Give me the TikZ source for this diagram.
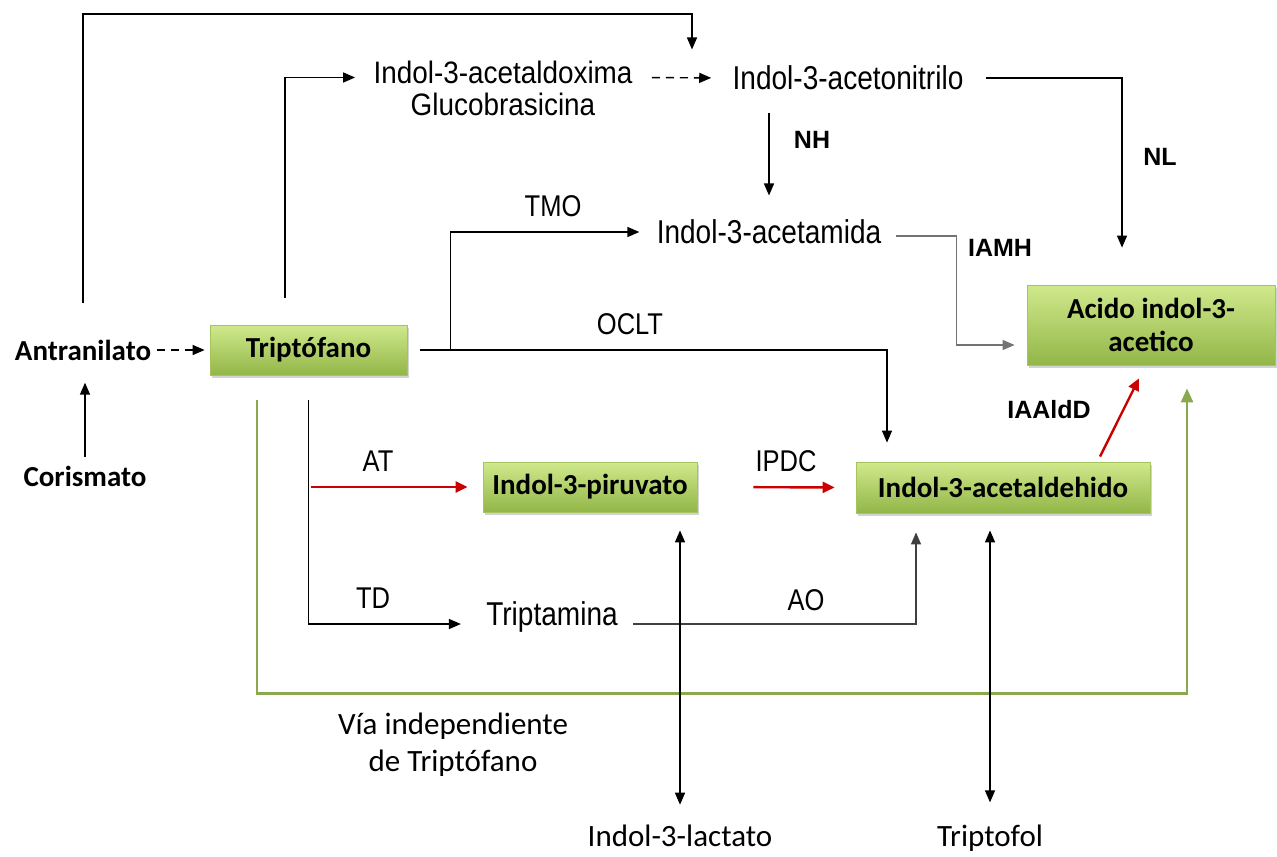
\documentclass[tikz,border=0pt]{standalone}
\usepackage{fontspec}
\setmainfont{Carlito}
\newfontfamily\narfont[FakeStretch=0.85]{Liberation Sans}
\newfontfamily\narwfont[FakeStretch=0.9]{Liberation Sans}
\newfontfamily\arfont{Liberation Sans}
\usetikzlibrary{arrows.meta,shadows}

\definecolor{boxtop}{RGB}{208,233,140}
\definecolor{boxbot}{RGB}{146,182,72}
\definecolor{boxedge}{RGB}{165,195,95}
\definecolor{viagreen}{RGB}{138,168,78}
\definecolor{redarr}{RGB}{204,0,0}

\begin{document}
\begin{tikzpicture}
[
x=0.5pt, y=-0.5pt,
every node/.style={inner sep=2pt},
box/.style={rectangle, draw=boxedge, top color=boxtop, bottom color=boxbot,
  font=\bfseries\fontsize{14.5}{16.5}\selectfont,
  drop shadow={shadow xshift=1.2pt, shadow yshift=-1.6pt, opacity=0.35}},
met/.style={font=\bfseries\fontsize{14.5}{16.5}\selectfont},
nar/.style={font=\narfont\fontsize{16.5}{17}\selectfont},
nar2/.style={font=\narwfont\fontsize{15.5}{15.6}\selectfont},
lab/.style={font=\narfont\fontsize{15}{15}\selectfont},
enz/.style={font=\arfont\bfseries\fontsize{12.5}{14}\selectfont},
pl/.style={font=\fontsize{15.5}{18.5}\selectfont},
arr/.style={-{Triangle[length=6pt,width=5pt]}, line width=0.7pt},
darr/.style={{Triangle[length=6pt,width=5pt]}-{Triangle[length=6pt,width=5pt]}, line width=0.7pt},
dash arr/.style={arr, dash pattern=on 4pt off 3pt},
red arr/.style={arr, draw=redarr, line width=1.2pt, -{Triangle[length=6pt,width=5.5pt]}},
grey arr/.style={arr, draw=black!55},
via arr/.style={arr, draw=viagreen, line width=1.3pt, -{Triangle[length=7pt,width=6pt]}}
]
\useasboundingbox (0,0) rectangle (1277,856);

% metabolitos
\node[met] (antr) at (83,350) {Antranilato};
\node[met] (coris) at (85,476) {Corismato};
\node[box, minimum width=98.5pt, minimum height=25pt] (trip) at (308.5,350) {Triptófano};
\node[nar2, align=center] (oxim) at (503,88.5) {Indol-3-acetaldoxima\\Glucobrasicina};
\node[nar] (nitr) at (848,78) {Indol-3-acetonitrilo};
\node[nar] (amida) at (769,232) {Indol-3-acetamida};
\node[box, align=center, minimum width=124pt, minimum height=40pt] (iaa) at (1151,325) {Acido indol-3-\\acetico};
\node[box, minimum width=107pt, minimum height=25pt] (piru) at (590,487) {Indol-3-piruvato};
\node[box, minimum width=147pt, minimum height=25.5pt] (ald) at (1003,487.5) {Indol-3-acetaldehido};
\node[nar] (tripta) at (552,617) {Triptamina};
\node[pl] (lact) at (680,836) {Indol-3-lactato};
\node[pl] (tfol) at (990,838) {Triptofol};
\node[pl, align=center] (via) at (453,745) {Vía independiente\\de Triptófano};

% enzimas
\node[enz] (nh) at (812,140) {NH};
\node[enz] (nl) at (1160,157) {NL};
\node[enz] (iamh) at (1000,248) {IAMH};
\node[enz] (iaald) at (1049,410) {IAAldD};
\node[lab] (tmo) at (553,206) {TMO};
\node[lab] (oclt) at (630,324) {OCLT};
\node[lab] (at) at (378,461) {AT};
\node[lab] (ipdc) at (786,461) {IPDC};
\node[lab] (td) at (373,598) {TD};
\node[lab] (ao) at (806,600) {AO};

% conexiones
\draw[dash arr, shorten <=1pt, shorten >=2.5pt] (antr.east) -- (trip.west);
\draw[arr, shorten <=2pt, shorten >=9pt] (coris.north) -- (coris.north |- antr.south);
\draw[arr, shorten <=16pt] (antr.north) |- (692,14) -- ([xshift=-78pt,yshift=6pt]nitr.north);
\draw[arr, shorten >=7pt] ([xshift=-11.75pt,yshift=13.5pt]trip.north) |- ([yshift=5.5pt]oxim.west);
\draw[dash arr, shorten <=7.5pt, shorten >=8.5pt] ([yshift=5.5pt]oxim.east) -- (nitr.west);
\draw[arr, shorten <=9pt] (nitr.east) -| ([xshift=-14.5pt,yshift=18.5pt]iaa.north);
\draw[arr, shorten <=9pt, shorten >=10pt] (nitr.south -| amida.north) -- (amida.north);
\draw[arr] ([xshift=6.5pt]trip.east) -| ([xshift=-58pt,yshift=9.5pt]ald.north);
\draw[arr, shorten >=6.5pt] ([xshift=21.5pt]trip.east) |- (amida.west);
\draw[grey arr, shorten <=5pt, shorten >=6pt] ([yshift=-2pt]amida.east) -- ++(71,0) |- ([yshift=-10pt]iaa.west);
\draw[arr, shorten <=12.5pt, shorten >=10.5pt] (trip.south) |- ([yshift=-3.5pt]tripta.west);
\draw[red arr, shorten <=1pt, shorten >=7.5pt] (trip.south |- piru.west) -- (piru.west);
\draw[red arr, shorten <=28pt, shorten >=10.5pt] (piru.east) -- (ald.west);
\draw[red arr] ([xshift=48.5pt,yshift=2.5pt]ald.north) -- ([xshift=-6pt,yshift=-6.5pt]iaa.south);
\draw[arr, draw=black!75, shorten <=5.5pt] ([yshift=-3.5pt]tripta.east) -| ([xshift=-43.5pt,yshift=-9.5pt]ald.south);
\draw[via arr] ([xshift=-25.75pt,yshift=-12.5pt]trip.south) -- ++(0,293) -| ([xshift=18pt,yshift=-11.5pt]iaa.south);
\draw[darr, shorten <=9pt, shorten >=8pt] (lact.north |- piru.south) -- (lact.north);
\draw[darr, shorten <=8.5pt, shorten >=9pt] (tfol.north |- ald.south) -- (tfol.north);
\end{tikzpicture}
\end{document}
